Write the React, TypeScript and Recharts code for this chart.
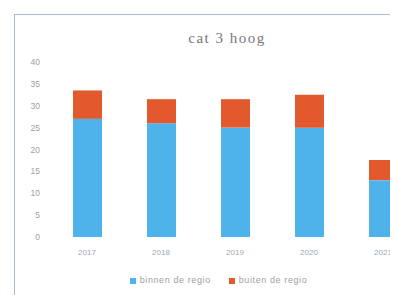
import { BarChart, Bar, XAxis, YAxis, Legend } from "recharts";

const years = ["2017", "2018", "2019", "2020", "2021"];
const binnen = [27, 26, 25, 25, 13];
const buiten = [6.5, 5.5, 6.5, 7.5, 4.6];
const yTicks = [0, 5, 10, 15, 20, 25, 30, 35, 40];

const data = years.map((year, i) => ({
  year,
  binnen: binnen[i],
  buiten: buiten[i],
}));

export default function App() {
  return (
    <div style={{ width: 390, height: 287, overflow: "hidden", position: "relative" }}>
      <div
        style={{
          position: "absolute",
          left: 6,
          top: 6,
          width: 440,
          height: 290,
          border: "1px solid #a9bccf",
          background: "#fff",
        }}
      >
        <BarChart
          width={440}
          height={285}
          data={data}
          margin={{ top: 47, right: 35, bottom: 15, left: 0 }}
        >
          <text x={212} y={28} textAnchor="middle" fontFamily="Liberation Serif" fontSize={15} letterSpacing={1.5} fill="#777">
            cat 3 hoog
          </text>
          <XAxis
            dataKey="year"
            axisLine={false}
            tickLine={false}
            tickSize={0}
            tickMargin={12}
            height={38}
            tick={{ fontSize: 8, fill: "#9aa8b8", fontFamily: "Liberation Sans" }}
          />
          <YAxis
            width={35}
            domain={[0, 40]}
            ticks={yTicks}
            axisLine={false}
            tickLine={false}
            tickSize={0}
            tickMargin={10}
            tick={{ fontSize: 8.5, fill: "#a0a0a0", fontFamily: "Liberation Sans" }}
          />
          <Legend
            iconType="square"
            iconSize={6}
            wrapperStyle={{ fontSize: 9, fontFamily: "Liberation Sans", left: 10, letterSpacing: 0.6 }}
            formatter={(value) => <span style={{ color: "#a0a0a0", marginRight: 8 }}>{value}</span>}
          />
          <Bar dataKey="binnen" name="binnen de regio" stackId="a" fill="#4db3ea" barSize={29} isAnimationActive={false} />
          <Bar dataKey="buiten" name="buiten de regio" stackId="a" fill="#e2592d" barSize={29} isAnimationActive={false} />
        </BarChart>
      </div>
    </div>
  );
}
